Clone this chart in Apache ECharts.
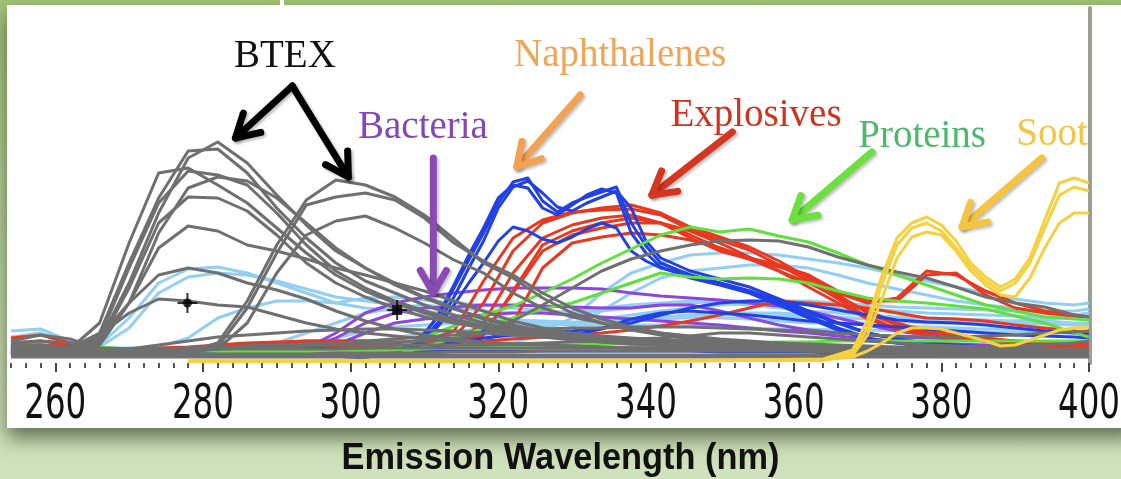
<!DOCTYPE html>
<html>
<head>
<meta charset="utf-8">
<title>Emission spectra</title>
<script src="https://cdn.jsdelivr.net/npm/echarts@6/dist/echarts.min.js"></script>
<style>
  html, body { margin: 0; padding: 0; }
  body {
    width: 1121px; height: 479px; overflow: hidden;
    background: linear-gradient(to bottom, #9fc376 0%, #b7d29a 45%, #d1e2be 100%);
  }
  #chart { width: 1121px; height: 479px; }
</style>
</head>
<body>
<div id="chart"></div>
<script>
// wavelength grid (nm) shared by most spectra
const wl = [254,258,262,266,270,274,278,282,286,290,294,298,302,306,310,314,318,322,326,330,
            334,338,342,346,350,354,358,362,366,370,374,378,382,386,390,394,398,400];
const majorTicks = [260,280,300,320,340,360,380,400];

// BTEX (gray)
const btex = [
  [14,14,13,22,80,150,205,221,200,168,138,112,95,80,66,55,44,36,30,25,22,20,18,17,16,15,14,13,12,12,11,11,10,10,10,10,10,10],
  [16,18,15,30,100,165,212,214,190,155,125,100,82,70,58,48,40,33,28,24,21,19,18,17,16,15,14,13,12,12,11,11,10,10,10,10,10,10],
  [13,13,14,40,120,190,195,178,160,135,110,88,72,60,50,42,35,30,26,23,21,19,18,17,16,15,14,13,12,12,11,11,10,10,10,10,10,10],
  [12,12,12,25,95,160,192,188,178,150,118,92,75,62,52,44,37,31,27,24,22,20,19,18,17,16,15,14,13,13,12,12,11,11,11,11,11,11],
  [12,12,12,18,60,130,175,186,182,165,140,115,95,78,65,54,45,38,32,28,25,22,20,19,18,17,16,15,14,14,13,13,12,12,12,12,12,12],
  [12,12,12,20,75,140,166,165,152,128,100,80,66,55,46,40,35,30,27,25,23,21,20,19,18,17,16,15,14,14,13,13,12,12,12,12,12,12],
  [12,12,12,18,60,115,137,132,118,112,104,95,88,80,72,62,52,42,35,30,27,25,23,22,21,20,19,18,17,16,15,15,14,14,14,14,14,14],
  [14,14,14,26,60,88,95,90,80,73,64,52,42,34,28,24,21,19,18,17,16,15,15,14,14,13,13,12,12,12,11,11,11,11,11,11,11,11],
  [14,14,14,28,50,64,62,58,56,48,40,34,30,27,24,22,20,19,18,17,16,15,15,14,14,13,13,12,12,12,11,11,11,11,11,11,11,11],
  [10,10,10,10,10,10,12,20,62,118,163,183,178,166,148,124,100,85,65,50,40,33,28,24,20,18,16,15,14,13,12,12,11,11,11,11,11,11],
  [10,10,10,10,10,10,11,16,55,110,158,166,170,163,145,120,102,88,70,55,44,36,30,26,22,20,18,16,15,14,13,12,12,11,11,11,11,11],
  [10,10,10,10,10,10,11,14,40,90,128,142,147,135,120,103,90,70,55,46,40,34,30,27,24,22,20,18,16,15,14,13,12,12,12,12,12,12]
];

// other gray spectra, mostly near the baseline
const grayLow = [
  [20,22,20,15,14,14,15,16,17,18,19,20,20,21,22,24,30,42,58,75,92,104,112,118,122,123,122,116,106,98,91,85,76,66,60,56,48,46],
  [22,28,24,14,14,18,22,26,28,30,32,33,34,34,33,32,30,28,26,25,24,24,25,27,30,30,28,26,24,22,20,18,17,16,15,14,14,14],
  [18,16,16,13,13,14,15,16,17,18,19,20,22,24,26,28,30,32,34,35,35,36,36,36,35,34,33,32,30,28,27,26,26,27,28,30,31,32],
  [12,12,12,11,11,12,13,14,15,16,17,18,18,18,18,18,18,19,20,21,22,22,22,22,22,21,20,19,18,17,16,16,16,16,17,18,20,22],
  [14,14,13,13,13,13,13,14,14,14,14,14,15,15,15,15,15,15,15,15,15,15,15,14,14,14,14,14,14,14,14,14,14,14,14,14,14,14],
  [10,10,10,10,10,9,9,9,9,9,9,10,10,10,10,11,11,11,12,12,12,12,12,12,12,12,12,12,11,11,11,11,11,11,11,11,11,11],
  [8,8,8,8,8,8,8,8,8,8,8,8,8,8,8,8,8,8,8,8,8,8,8,8,8,8,8,8,8,8,8,8,8,8,8,8,8,8],
  [6,6,6,6,6,6,6,6,6,6,6,6,6,6,6,6,6,6,6,6,6,6,6,6,6,6,6,6,6,6,6,6,6,6,6,6,6,6]
];

const lightBlue = [
  [32,34,22,18,45,80,94,96,90,80,70,60,55,52,48,45,42,40,40,38,38,38,38,37,36,35,34,34,33,33,32,32,32,31,31,30,30,30],
  [26,30,20,16,35,70,86,90,88,82,74,66,62,58,52,48,45,43,42,41,41,42,44,46,48,48,47,46,45,44,43,42,41,40,40,39,38,38],
  [20,22,18,15,15,16,25,45,55,62,62,60,65,66,63,60,58,55,52,50,52,55,58,60,62,62,60,58,56,54,52,50,49,48,47,46,46,46],
  [18,18,16,14,14,14,15,16,16,17,18,18,18,19,19,20,20,25,32,45,70,90,100,108,110,110,108,104,100,95,88,82,76,70,64,60,58,60],
  [16,16,15,13,13,13,14,14,15,15,16,16,17,17,17,18,18,20,28,36,52,70,85,92,95,98,98,95,88,80,74,68,62,58,55,50,48,50],
  [14,14,13,12,12,12,13,14,16,20,30,40,50,55,58,55,52,50,50,52,55,58,60,62,60,58,55,52,50,48,46,45,44,43,42,42,40,40],
  [14,14,13,12,12,12,12,13,14,15,18,25,32,36,38,40,40,40,40,40,42,44,45,45,45,44,42,40,40,38,37,36,35,34,34,33,32,32],
  [14,14,13,12,12,12,12,12,13,13,14,15,16,18,20,24,28,32,36,40,44,48,52,55,58,60,62,62,60,58,56,55,54,53,52,52,52,54],
  [12,12,12,11,11,11,11,12,12,13,14,16,20,25,30,32,34,36,38,40,42,44,46,48,50,50,50,48,46,44,42,40,40,40,42,44,46,48]
];

const bacteria = [
  [10,10,10,10,10,10,10,10,10,11,15,30,50,60,66,70,73,75,75,75,74,70,67,65,63,60,57,52,45,38,32,28,25,22,20,19,18,18],
  [9,9,9,9,9,9,9,9,9,10,12,25,40,50,55,56,58,58,57,56,55,55,58,58,52,45,38,33,30,28,26,25,24,23,22,21,20,20],
  [8,8,8,8,8,8,8,8,8,9,10,18,30,40,44,46,48,50,50,48,46,44,42,40,38,35,32,30,27,24,22,20,19,18,17,16,16,16]
];

const explosives = [
  [25,28,20,15,14,14,15,16,18,20,22,22,22,20,22,32,82,125,143,151,153,154,148,133,123,113,98,82,64,46,34,28,24,22,20,18,16,15],
  [20,22,18,14,13,13,14,15,16,18,20,21,21,20,20,25,60,112,140,150,155,158,150,136,126,116,102,85,68,50,38,30,26,23,21,19,17,16],
  [18,18,16,13,12,12,13,14,15,16,17,18,18,18,18,20,30,70,112,128,135,140,140,132,120,106,92,76,60,44,34,28,25,22,20,18,17,16],
  [16,16,15,12,12,12,12,13,14,15,16,16,16,16,16,17,20,40,95,120,126,130,128,123,115,104,92,80,66,52,40,32,28,25,22,20,18,17],
  [16,16,15,12,12,12,12,13,14,15,16,16,16,16,17,20,40,90,125,138,145,148,140,125,112,104,96,88,72,62,62,88,90,68,55,50,47,46],
  [16,16,15,12,12,12,12,13,14,15,16,16,16,16,17,18,28,72,118,132,140,145,140,128,115,105,98,88,70,60,65,92,88,72,60,52,48,46],
  [18,18,16,14,14,15,16,18,20,21,22,22,22,21,20,21,22,24,26,28,30,33,37,42,48,55,62,60,58,55,50,45,44,42,38,35,32,30]
];

// naphthalenes, read on a finer grid around the double peak
const naphWl = [254,290,302,306,308,310,312,314,316,318,320,322,324,326,328,330,332,334,336,338,
                340,342,346,350,354,358,362,366,370,374,378,382,390,400];
const naph = [
  [10,8,6,12,18,30,48,75,103,130,160,181,185,162,151,160,166,171,176,140,117,100,88,80,72,60,47,35,25,20,16,14,11,10],
  [10,8,6,10,15,25,42,66,95,122,155,176,182,170,156,152,160,166,172,155,122,105,92,84,76,64,52,40,30,24,20,17,13,12],
  [10,8,6,9,14,28,50,78,108,135,165,178,175,155,148,158,168,174,170,130,110,96,85,78,70,58,45,33,24,20,17,15,12,11],
  [10,8,6,9,13,22,38,58,80,100,122,136,132,124,120,126,134,140,135,112,102,95,88,80,72,62,50,40,30,24,20,18,14,12]
];
const blueLow = [
  [12,12,12,12,11,11,11,11,10,10,10,10,10,12,15,20,25,28,30,32,35,40,48,55,60,62,62,58,53,48,43,41,40,38,35,32,30,28],
  [14,12,15,12,10,10,10,11,12,12,12,11,10,10,14,22,32,36,26,28,34,44,50,52,50,48,45,42,40,38,36,34,32,30,28,27,26,25],
  [16,14,17,14,12,12,12,13,14,15,15,14,13,12,12,12,12,12,12,12,12,12,12,12,11,11,11,11,10,10,10,10,10,10,10,10,10,10]
];

const proteins = [
  [16,15,16,14,13,13,13,12,12,12,11,10,6,15,26,37,48,57,70,84,100,114,128,136,131,134,127,121,110,98,88,78,68,58,52,46,44,43],
  [14,14,14,12,12,12,12,12,11,11,10,9,6,8,16,25,35,45,54,60,70,80,90,86,84,85,84,80,72,65,62,60,57,54,47,40,30,26],
  [18,16,14,16,14,13,13,12,12,12,12,12,12,13,14,15,16,17,18,18,19,19,20,20,20,20,21,21,22,22,22,22,22,22,22,22,22,22]
];

// soot, finer grid around the two peaks
const sootWl = [278,300,340,364,368,370,372,374,376,378,380,382,384,386,388,390,392,394,396,398,400];
const soot = [
  [2,2,2,4,13,43,88,125,140,146,138,122,100,86,76,84,105,143,180,185,180],
  [2,2,2,3,10,35,80,118,135,140,132,115,96,82,72,80,100,135,168,176,172],
  [2,2,2,3,8,28,65,105,126,131,128,112,92,78,68,66,85,115,140,150,150],
  [2,2,2,3,6,12,20,30,35,35,34,30,26,22,17,18,23,28,33,35,36]
];

// cross-hair markers
const markers = [[277.9, 60], [306.3, 53]];

// annotations in data coordinates
const labels = [
  { text: 'BTEX',         at: [291.1, 306], color: '#111111' },
  { text: 'Bacteria',     at: [309.8, 235], color: '#8447b8' },
  { text: 'Naphthalenes', at: [336.5, 307], color: '#f0a458' },
  { text: 'Explosives',   at: [354.9, 247], color: '#d3311f' },
  { text: 'Proteins',     at: [377.4, 226], color: '#4cb86c' },
  { text: 'Soot',         at: [395.0, 228], color: '#f5c444' }
];
const arrows = [
  { from: [292.1, 277], to: [284.4, 225], color: '#000000' },
  { from: [292.1, 277], to: [299.7, 186], color: '#000000' },
  { from: [311.2, 205], to: [311.2, 70],  color: '#8a4bb5' },
  { from: [331.1, 268], to: [322.5, 196], color: '#f2a252' },
  { from: [351.7, 231], to: [340.8, 168], color: '#d4361f' },
  { from: [370.6, 211], to: [359.8, 143], color: '#6ddf3f' },
  { from: [393.6, 205], to: [382.8, 136], color: '#f5c443' }
];
const xTitle = 'Emission Wavelength (nm)';

const minorTicks = [];
for (let t = 254; t <= 400; t += 2) if (t % 20 !== 0) minorTicks.push(t);

const chart = echarts.init(document.getElementById('chart'));

const series = [];
function addGroup(name, xs, list, color) {
  list.forEach(ys => {
    series.push({
      name: name, type: 'line', silent: true,
      data: ys.map((y, i) => [xs[i], y]),
      showSymbol: false, symbol: 'none',
      lineStyle: { color: color, width: 3, join: 'round' }
    });
  });
}
addGroup('Light blue', wl, lightBlue, '#92cff3');
addGroup('Bacteria', wl, bacteria, '#8c45e2');
addGroup('Explosives', wl, explosives, '#e8381f');
addGroup('Blue', wl, blueLow, '#2141e6');
addGroup('Naphthalenes', naphWl, naph, '#2141e6');
addGroup('Proteins', wl, proteins, '#5fe03c');
addGroup('Gray', wl, grayLow, '#707070');
addGroup('BTEX', wl, btex, '#6f6f6f');
addGroup('Soot', sootWl, soot, '#f6d13f');

const plus = 'path://M9,0H11V9H20V11H11V20H9V11H0V9H9Z';
series.push({ type: 'scatter', silent: true, data: markers, symbol: plus, symbolSize: 20, itemStyle: { color: '#000' }, z: 5 });
series.push({ type: 'scatter', silent: true, data: [markers[0]], symbol: 'circle', symbolSize: 9, itemStyle: { color: '#000' }, z: 5 });
series.push({ type: 'scatter', silent: true, data: [markers[1]], symbol: 'rect', symbolSize: 10, itemStyle: { color: '#000' }, z: 5 });

chart.setOption({
  animation: false,
  grid: { left: 8, right: 32, top: 8, bottom: 116, outerBoundsMode: 'none', containLabel: false },
  xAxis: [{
    type: 'value', position: 'bottom', min: 253.6, max: 400, offset: 5,
    axisLine: { show: false }, splitLine: { show: false },
    axisTick: { show: true, customValues: majorTicks, length: 9, lineStyle: { color: '#444', width: 2 } },
    axisLabel: { show: false }
  }, {
    type: 'value', position: 'bottom', min: 253.6, max: 400, offset: 5,
    axisLine: { show: false }, splitLine: { show: false },
    axisTick: { show: true, customValues: minorTicks, length: 5, lineStyle: { color: '#555', width: 2 } },
    axisLabel: { show: false }
  }],
  yAxis: [{
    type: 'value', min: 0, max: 355, show: false
  }, {
    type: 'value', min: 0, max: 355, position: 'right', offset: 1,
    axisLine: { show: true, lineStyle: { color: '#9a9e93', width: 4 } },
    axisTick: { show: false }, axisLabel: { show: false }, splitLine: { show: false }
  }],
  series: series
});

// narrow fonts are not installed: squeeze regular ones to the measured widths
const ctx = document.createElement('canvas').getContext('2d');
function textW(str, font) { ctx.font = font; return ctx.measureText(str).width; }
const tickFont = '48px "DejaVu Sans"';
const tickScale = 62 / textW('260', tickFont);
const titleFont = 'bold 37px "Liberation Sans"';
const titleScale = 438 / textW(xTitle, titleFont);

const toPx = p => chart.convertToPixel({ xAxisIndex: 0, yAxisIndex: 0 }, p);
const graphics = [
  { type: 'rect', z: -10, shape: { x: 7, y: 5, width: 1130, height: 423 },
    style: { fill: '#fff', shadowBlur: 18, shadowOffsetY: 10, shadowColor: 'rgba(30,40,20,0.6)' } },
  { type: 'rect', z: -9, shape: { x: 280, y: 0, width: 4, height: 6 }, style: { fill: '#fff' } }
];
majorTicks.forEach(v => {
  const p = toPx([v, 0]);
  graphics.push({ type: 'text', z: 50, x: p[0], y: p[1] + 43, scaleX: tickScale,
    style: { text: String(v), fill: '#111', fontFamily: 'DejaVu Sans', fontSize: 48, align: 'center', verticalAlign: 'middle' } });
});
graphics.push({ type: 'text', z: 50, x: 560.5, y: 459, scaleX: titleScale,
  style: { text: xTitle, fill: '#111', fontFamily: 'Liberation Sans', fontWeight: 'bold', fontSize: 37, align: 'center', verticalAlign: 'middle' } });
arrows.forEach(a => {
  const p0 = toPx(a.from), p1 = toPx(a.to);
  const ang = Math.atan2(p0[1] - p1[1], p0[0] - p1[0]);
  const L = 26, sp = Math.PI / 6;
  const h1 = [p1[0] + L * Math.cos(ang + sp), p1[1] + L * Math.sin(ang + sp)];
  const h2 = [p1[0] + L * Math.cos(ang - sp), p1[1] + L * Math.sin(ang - sp)];
  const st = { stroke: a.color, fill: 'none', lineWidth: 7, lineCap: 'round', lineJoin: 'round',
               shadowBlur: 3, shadowOffsetX: 2, shadowOffsetY: 2, shadowColor: 'rgba(0,0,0,0.25)' };
  graphics.push({ type: 'polyline', z: 100, shape: { points: [p0, p1] }, style: st });
  graphics.push({ type: 'polyline', z: 100, shape: { points: [h1, p1, h2] }, style: st });
});
labels.forEach(l => {
  const p = toPx(l.at);
  graphics.push({ type: 'text', z: 101, x: p[0], y: p[1],
    style: { text: l.text, fill: l.color, fontFamily: '"Liberation Serif", "Times New Roman", serif',
             fontSize: 39, align: 'center', verticalAlign: 'middle' } });
});
chart.setOption({ graphic: graphics });
</script>
</body>
</html>
